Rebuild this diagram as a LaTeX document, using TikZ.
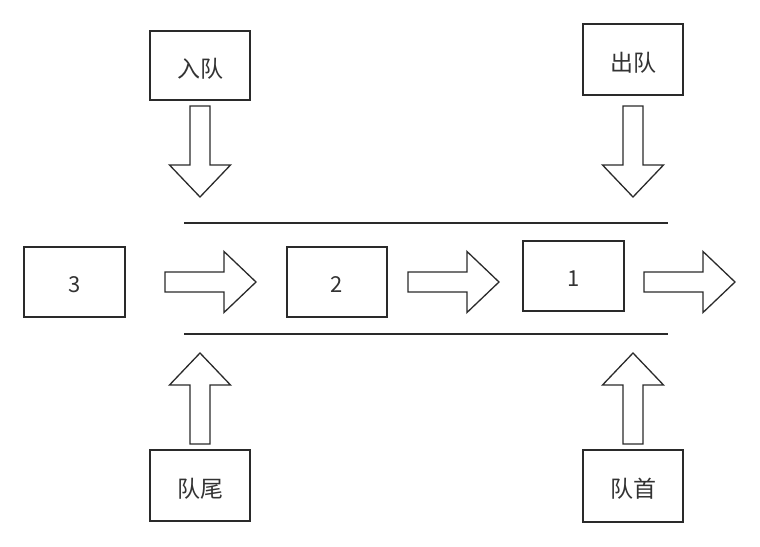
\documentclass[tikz,border=0pt]{standalone}
\usepackage{fontspec}
\setmainfont{Noto Sans CJK SC}
\definecolor{ink}{HTML}{2A2A2A}
\definecolor{txt}{HTML}{333333}
\begin{document}
\begin{tikzpicture}[x=1pt,y=-1pt,
  box/.style={draw=ink, line width=1.8pt, minimum width=100pt, minimum height=70pt, inner sep=0pt, text=txt},
  cjk/.style={font=\fontsize{23}{27}\selectfont, text height=23pt, text depth=0pt},
  num/.style={font=\fontsize{22}{26}\selectfont, text height=21pt, text depth=0pt},
  rail/.style={draw=ink, line width=1.6pt},
  pics/blockarrow/.style={code={
    \draw[draw=ink, line width=1.3pt, fill=white, line join=miter]
      (0,-10) -- (59,-10) -- (59,-30.5) -- (91,0) -- (59,30.5) -- (59,10) -- (0,10) -- cycle;
  }}]
\useasboundingbox (0,0) rectangle (760,546);
% boxes
\node[box, cjk, minimum height=69pt] (enq) at (200,65.5) {入队};
\node[box, cjk, minimum height=71pt] (deq) at (633,59.5) {出队};
\node[box, num, minimum width=101pt] (n3) at (74.5,282) {3};
\node[box, num] (n2) at (337,282) {2};
\node[box, num, minimum width=101pt] (n1) at (573.5,276) {1};
\node[box, cjk, minimum height=71pt] (tail) at (200,485.5) {队尾};
\node[box, cjk, minimum height=72pt] (head) at (633,486) {队首};
% rails
\coordinate (r1a) at (184,223); \coordinate (r1b) at (668,223);
\coordinate (r2a) at (184,334); \coordinate (r2b) at (668,334);
\draw[rail] (r1a) -- (r1b);
\draw[rail] (r2a) -- (r2b);
% block arrows
\pic at (165,282) {blockarrow};
\pic at (408,282) {blockarrow};
\pic at (644,282) {blockarrow};
\pic[rotate=-90] at (200,106) {blockarrow};
\pic[rotate=-90] at (633,106) {blockarrow};
\pic[rotate=90] at (200,444) {blockarrow};
\pic[rotate=90] at (633,444) {blockarrow};
\end{tikzpicture}
\end{document}
